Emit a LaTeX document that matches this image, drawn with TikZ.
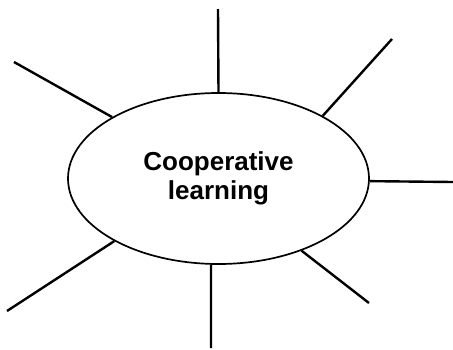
\documentclass[tikz,border=0pt]{standalone}
\usepackage{fontspec}
\setmainfont{Liberation Sans}
\usetikzlibrary{shapes.geometric}

\tikzset{
  topicbox/.style={draw, ellipse, line width=1.7pt, minimum width=301pt,
    minimum height=171pt, inner sep=0pt, align=center,
    font=\fontsize{26}{29.5}\selectfont\bfseries},
  spoke/.style={line width=2.4pt}
}

\begin{document}
\begin{tikzpicture}[x=1pt, y=-1pt]
    \useasboundingbox (0,0) rectangle (453,349);
    \node[topicbox] (topic) at (218.5,178.5) {Cooperative\\learning};
    % free ends of the spokes
    \coordinate (endN)  at (218,9);
    \coordinate (endNE) at (392,39);
    \coordinate (endE)  at (453,182);
    \coordinate (endSE) at (369,303);
    \coordinate (endS)  at (211,348);
    \coordinate (endSW) at (7,311);
    \coordinate (endNW) at (14,62);
    \foreach \a/\e in {90/endN, 31/endNE, -1.3/endE, -41/endSE,
                       -95/endS, 211.5/endSW, 150.5/endNW} {
      \draw[spoke] (topic.\a) -- (\e);
    }
\end{tikzpicture}
\end{document}
